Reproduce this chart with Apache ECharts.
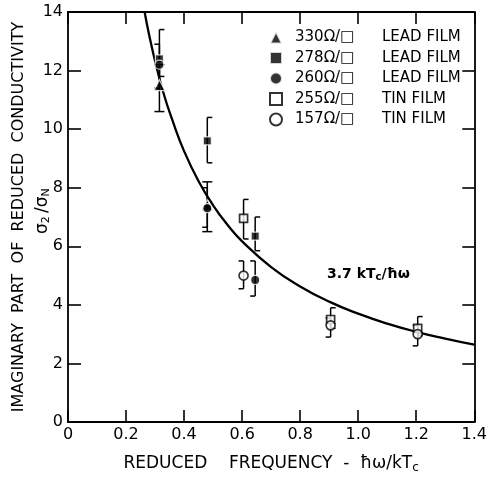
<!DOCTYPE html>
<html><head><meta charset="utf-8">
<script src="https://cdn.jsdelivr.net/npm/echarts@6/dist/echarts.min.js"></script>
<style>html,body{margin:0;padding:0;background:#fff}#c{width:490px;height:479px}</style>
</head><body><div id="c"></div>
<script>
// ---- data ----
var xTicks = [0, 0.2, 0.4, 0.6, 0.8, 1.0, 1.2, 1.4];
var yTicks = [0, 2, 4, 6, 8, 10, 12, 14];

// theory curve 3.7 kTc / hbar omega
var curveX = [0.264, 0.28, 0.30, 0.33, 0.36, 0.40, 0.45, 0.50, 0.55, 0.60, 0.70, 0.80, 0.90, 1.00, 1.10, 1.20, 1.30, 1.40];
var curveY = [14.0, 13.2, 12.33, 11.2, 10.3, 9.25, 8.22, 7.4, 6.73, 6.17, 5.29, 4.63, 4.11, 3.7, 3.36, 3.08, 2.85, 2.64];

// 330 ohm/sq lead film (filled triangle)
var s330X  = [0.315, 0.48];
var s330Y  = [11.5, 7.4];
var s330Lo = [10.6, 6.5];
var s330Hi = [12.2, 8.2];

// 278 ohm/sq lead film (filled square)
var s278X  = [0.315, 0.48, 0.645];
var s278Y  = [12.4, 9.6, 6.35];
var s278Lo = [11.8, 8.85, 5.85];
var s278Hi = [13.4, 10.4, 7.0];

// 260 ohm/sq lead film (filled circle)
var s260X  = [0.315, 0.48, 0.645];
var s260Y  = [12.2, 7.3, 4.85];
var s260Lo = [11.4, 6.65, 4.3];
var s260Hi = [12.9, 8.0, 5.5];

// 255 ohm/sq tin film (open square)
var s255X  = [0.605, 0.905, 1.205];
var s255Y  = [6.95, 3.5, 3.2];
var s255Lo = [6.25, 3.2, 2.95];
var s255Hi = [7.6, 3.9, 3.6];

// 157 ohm/sq tin film (open circle)
var s157X  = [0.605, 0.905, 1.205];
var s157Y  = [5.0, 3.3, 3.0];
var s157Lo = [4.55, 2.9, 2.6];
var s157Hi = [5.5, 3.55, 3.3];

var legendNames = ['330Ω/□ LEAD FILM', '278Ω/□ LEAD FILM', '260Ω/□ LEAD FILM', '255Ω/□ TIN FILM', '157Ω/□ TIN FILM'];
var xName = 'REDUCED    FREQUENCY  -  ħω/kT';
var yName = 'IMAGINARY  PART  OF  REDUCED  CONDUCTIVITY';
var curveLabel = '3.7 kTc/ħω';

// ---- build ----
function pts(xs, ys){ return xs.map(function(x,i){ return [x, ys[i]]; }); }
function errs(xs, lo, hi){ return xs.map(function(x,i){ return [x, lo[i], hi[i]]; }); }
var FONT = 'DejaVu Sans';

function errSeries(data, side){
  return {
    type: 'custom', silent: true, z: 3, data: data,
    encode: {x: 0, y: [1, 2]},
    renderItem: function(params, api){
      var x = api.value(0), lo = api.value(1), hi = api.value(2);
      var a = api.coord([x, lo]), b = api.coord([x, hi]);
      var w = 5, l = side > 0 ? 0 : -w, r = side < 0 ? 0 : w;
      var st = {stroke: '#000', lineWidth: 1.5};
      return {type: 'group', children: [
        {type: 'line', shape: {x1: a[0], y1: a[1], x2: b[0], y2: b[1]}, style: st},
        {type: 'line', shape: {x1: a[0] + l, y1: a[1], x2: a[0] + r, y2: a[1]}, style: st},
        {type: 'line', shape: {x1: b[0] + l, y1: b[1], x2: b[0] + r, y2: b[1]}, style: st}
      ]};
    }
  };
}

function sc(name, data, symbol, size, open){
  return {
    name: name, type: 'scatter', data: data, symbol: symbol, symbolSize: size, z: 5,
    itemStyle: open ? {color: '#fff', borderColor: '#000', borderWidth: 1.7}
                    : {color: '#000', borderColor: '#fff', borderWidth: 1.2}
  };
}

var axisCommon = {
  type: 'value', min: 0, max: 1.4, interval: 0.2,
  axisLine: {show: true, onZero: false, lineStyle: {color: '#000', width: 1.8}},
  axisTick: {show: true, inside: true, length: 12, lineStyle: {color: '#000', width: 1.6}},
  splitLine: {show: false}
};

var chart = echarts.init(document.getElementById('c'));
chart.setOption({
  animation: false,
  backgroundColor: '#fff',
  grid: {left: 68, right: 11, top: 12, bottom: 55},
  xAxis: [
    Object.assign({}, axisCommon, {
      position: 'bottom',
      axisLabel: {color: '#000', fontFamily: FONT, fontSize: 16, margin: 5,
        formatter: function(v){ return v === 0 ? '0' : v.toFixed(1); }},
      name: '{t|' + xName + '}{s|c}', nameLocation: 'middle', nameGap: 31,
      nameTextStyle: {rich: {
        t: {color: '#000', fontFamily: FONT, fontSize: 17},
        s: {color: '#000', fontFamily: FONT, fontSize: 12, padding: [9, 0, 0, 0]}
      }}
    }),
    Object.assign({}, axisCommon, {position: 'top', axisLabel: {show: false}})
  ],
  yAxis: [
    {type: 'value', min: 0, max: 14, interval: 2, position: 'left',
     axisLine: {show: true, onZero: false, lineStyle: {color: '#000', width: 1.8}},
     axisTick: {show: true, inside: true, length: 13, lineStyle: {color: '#000', width: 1.6}},
     splitLine: {show: false},
     axisLabel: {color: '#000', fontFamily: FONT, fontSize: 16, margin: 5},
     name: yName, nameLocation: 'middle', nameGap: 41,
     nameTextStyle: {color: '#000', fontFamily: FONT, fontSize: 16}},
    {type: 'value', min: 0, max: 14, interval: 2, position: 'right',
     axisLine: {show: true, onZero: false, lineStyle: {color: '#000', width: 1.8}},
     axisTick: {show: true, inside: true, length: 12, lineStyle: {color: '#000', width: 1.6}},
     splitLine: {show: false}, axisLabel: {show: false}}
  ],
  legend: {
    data: legendNames, orient: 'vertical', left: 264, top: 25,
    itemWidth: 12, itemHeight: 12, itemGap: 5.5, selectedMode: false,
    formatter: function(n){ var p = n.split(' '); return '{a|' + p[0] + '}{b|' + p.slice(1).join(' ') + '}'; },
    textStyle: {rich: {
      a: {color: '#000', fontFamily: FONT, fontSize: 15, width: 87, padding: [0, 0, 0, 8]},
      b: {color: '#000', fontFamily: FONT, fontSize: 15}
    }}
  },
  graphic: [
    {type: 'text', x: 33, y: 234, rotation: Math.PI / 2,
     style: {text: '{s|σ}{b|2} {s|/σ}{b|N}', rich: {
       s: {fontFamily: FONT, fontSize: 17, fill: '#000'},
       b: {fontFamily: FONT, fontSize: 11, fill: '#000', padding: [8, 0, 0, 0]}
     }}},
    {type: 'text', x: 327, y: 266,
     style: {text: '{t|3.7 kT}{s|c}{t|/ħω}', rich: {
       t: {fontFamily: FONT, fontSize: 14, fontWeight: 'bold', fill: '#000'},
       s: {fontFamily: FONT, fontSize: 10, fontWeight: 'bold', fill: '#000', padding: [6, 0, 0, 0]}
     }}}
  ],
  series: [
    {type: 'line', data: pts(curveX, curveY), smooth: true, showSymbol: false, symbol: 'none', z: 2,
     lineStyle: {color: '#000', width: 2.3}, silent: true},
    errSeries(errs(s330X, s330Lo, s330Hi), 0),
    errSeries(errs(s278X, s278Lo, s278Hi), 1),
    errSeries(errs(s260X, s260Lo, s260Hi), -1),
    errSeries(errs(s255X, s255Lo, s255Hi), 1),
    errSeries(errs(s157X, s157Lo, s157Hi), -1),
    sc(legendNames[0], pts(s330X, s330Y), 'triangle', 11, false),
    sc(legendNames[1], pts(s278X, s278Y), 'rect', 8, false),
    sc(legendNames[2], pts(s260X, s260Y), 'circle', 9, false),
    sc(legendNames[3], pts(s255X, s255Y), 'rect', 8, true),
    sc(legendNames[4], pts(s157X, s157Y), 'circle', 9, true)
  ]
});
</script></body></html>
